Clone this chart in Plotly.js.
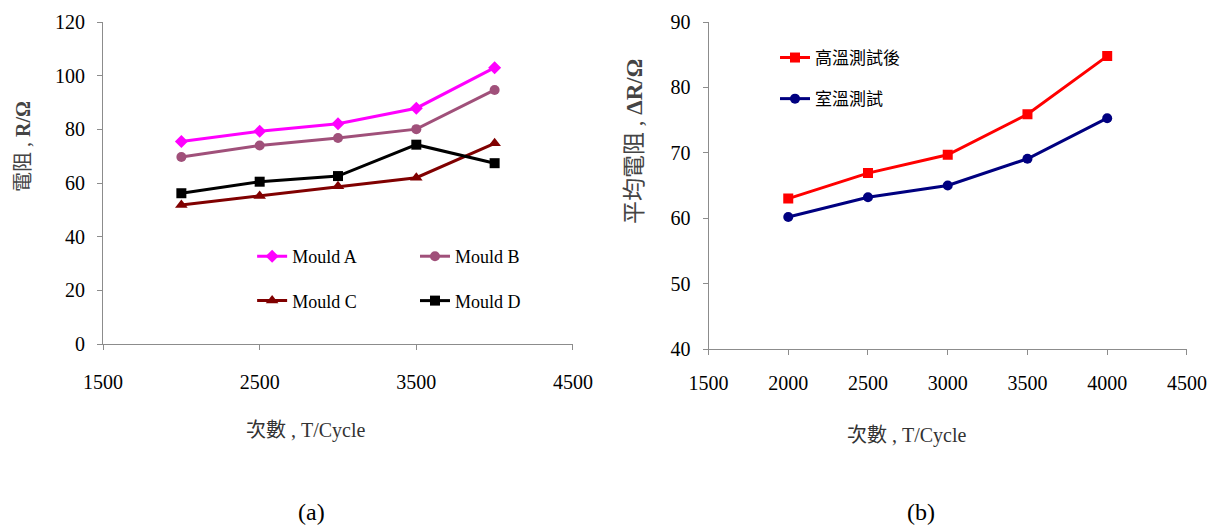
<!DOCTYPE html>
<html>
<head>
<meta charset="utf-8">
<script src="https://cdn.plot.ly/plotly-3.0.1.min.js"></script>
<style>html,body{margin:0;padding:0;background:#fff;}#chart{width:1218px;height:526px;}</style>
</head>
<body>
<div id="chart"></div>
<script>
// Chart (a)
const cyclesA = [2000, 2500, 3000, 3500, 4000];
const mouldA = [75.5, 79.3, 82.1, 87.9, 103];
const mouldB = [69.7, 74.0, 76.8, 80.1, 94.7];
const mouldC = [51.8, 55.2, 58.8, 62.0, 74.8];
const mouldD = [56.2, 60.5, 62.6, 74.3, 67.4];
const namesA = ["Mould A", "Mould B", "Mould C", "Mould D"];
// Chart (b)
const cyclesB = [2000, 2500, 3000, 3500, 4000];
const highTemp = [63.0, 66.9, 69.7, 75.9, 84.8];
const roomTemp = [60.2, 63.2, 65.0, 69.1, 75.3];
const namesB = ["高溫測試後", "室溫測試"];

const serif = "Liberation Serif, Times New Roman, Noto Sans CJK TC, serif";
const cjk = "Noto Sans CJK TC, Liberation Serif, serif";

function tr(x, y, name, color, symbol, msize, xa, ya, legend, group) {
  return {
    type: "scatter", mode: "lines+markers", x: x, y: y, name: name,
    xaxis: xa, yaxis: ya, legend: legend, legendgroup: group,
    line: {color: color, width: 3},
    marker: {color: color, symbol: symbol, size: msize}
  };
}

const data = [
  tr(cyclesA, mouldA, namesA[0], "#FF00FF", "diamond", 10, "x", "y", "legend", "a"),
  tr(cyclesA, mouldC, namesA[2], "#800000", "triangle-up", 11, "x", "y", "legend", "c"),
  tr(cyclesA, mouldB, namesA[1], "#A0507A", "circle", 10, "x", "y", "legend2", "b"),
  tr(cyclesA, mouldD, namesA[3], "#000000", "square", 10, "x", "y", "legend2", "d"),
  tr(cyclesB, highTemp, namesB[0], "#FF0000", "square", 10, "x2", "y2", "legend3", "h"),
  tr(cyclesB, roomTemp, namesB[1], "#000080", "circle", 10, "x2", "y2", "legend3", "r")
];

const axisBase = {
  showline: true, linecolor: "#8c8c8c", linewidth: 1,
  ticks: "outside", ticklen: 5, tickcolor: "#8c8c8c", tickwidth: 1,
  showgrid: false, zeroline: false,
  tickfont: {family: serif, size: 20, color: "#000"}
};

const legBase = {
  orientation: "v", xanchor: "left", yanchor: "top",
  bgcolor: "rgba(0,0,0,0)", traceorder: "grouped", tracegroupgap: 18,
  itemwidth: 30
};

const layout = {
  width: 1218, height: 526,
  margin: {l: 0, r: 0, t: 0, b: 0},
  paper_bgcolor: "#fff", plot_bgcolor: "#fff",
  showlegend: true,
  xaxis: Object.assign({}, axisBase, {domain: [0.0846, 0.4704], range: [1500, 4500], tick0: 1500, dtick: 1000, anchor: "y", ticklabelstandoff: 15}),
  yaxis: Object.assign({}, axisBase, {domain: [0.346, 0.958], range: [0, 120], dtick: 20, anchor: "x", ticklabelstandoff: 8}),
  xaxis2: Object.assign({}, axisBase, {domain: [0.5817, 0.9745], range: [1500, 4500], tick0: 1500, dtick: 500, anchor: "y2", ticklabelstandoff: 11}),
  yaxis2: Object.assign({}, axisBase, {domain: [0.3365, 0.958], range: [40, 90], dtick: 10, anchor: "x2", ticklabelstandoff: 8}),
  legend: Object.assign({}, legBase, {x: 0.207, y: 0.5475, font: {family: serif, size: 18, color: "#000"}}),
  legend2: Object.assign({}, legBase, {x: 0.3407, y: 0.5475, font: {family: serif, size: 18, color: "#000"}}),
  legend3: Object.assign({}, legBase, {x: 0.6363, y: 0.924, tracegroupgap: 16, font: {family: cjk, size: 17, color: "#000"}}),
  annotations: [
    {text: "電阻 , <b>R/Ω</b>", x: 23 / 1218, y: 1 - 147 / 526, xref: "paper", yref: "paper", textangle: -90, showarrow: false, xanchor: "center", yanchor: "middle", font: {family: serif, size: 20, color: "#444"}},
    {text: "次數 , T/Cycle", x: 306 / 1218, y: 1 - 430 / 526, xref: "paper", yref: "paper", showarrow: false, xanchor: "center", yanchor: "middle", font: {family: serif, size: 20, color: "#333"}},
    {text: "平均電阻 , <b>ΔR/Ω</b>", x: 634 / 1218, y: 1 - 142 / 526, xref: "paper", yref: "paper", textangle: -90, showarrow: false, xanchor: "center", yanchor: "middle", font: {family: serif, size: 23, color: "#444"}},
    {text: "次數 , T/Cycle", x: 907 / 1218, y: 1 - 435 / 526, xref: "paper", yref: "paper", showarrow: false, xanchor: "center", yanchor: "middle", font: {family: serif, size: 20, color: "#333"}},
    {text: "(a)", x: 311 / 1218, y: 1 - 512 / 526, xref: "paper", yref: "paper", showarrow: false, xanchor: "center", yanchor: "middle", font: {family: serif, size: 24, color: "#000"}},
    {text: "(b)", x: 921 / 1218, y: 1 - 512 / 526, xref: "paper", yref: "paper", showarrow: false, xanchor: "center", yanchor: "middle", font: {family: serif, size: 24, color: "#000"}}
  ]
};

Plotly.newPlot("chart", data, layout, {displayModeBar: false, staticPlot: true});
</script>
</body>
</html>
